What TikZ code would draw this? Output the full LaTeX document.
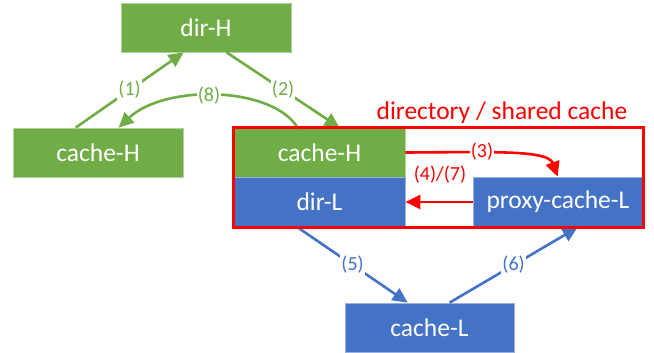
\documentclass[tikz,border=0pt]{standalone}
\usepackage{fontspec}
\setmainfont{Carlito}
\usetikzlibrary{arrows.meta,calc}
\definecolor{cgreen}{HTML}{70AD47}
\definecolor{cblue}{HTML}{4472C4}
\definecolor{cred}{HTML}{FF0000}
\begin{document}
\begin{tikzpicture}[x=1pt,y=-1pt,
  boxbase/.style={inner sep=0pt, text=white, font=\fontsize{25.5}{28}\selectfont, line width=0.75pt, minimum height=49pt},
  gbox/.style={boxbase, fill=cgreen, draw=cgreen!55!white},
  bbox/.style={boxbase, fill=cblue, draw=cblue!55!white},
  conn/.style={line width=2.6pt, -{Triangle[length=15pt,width=14pt]}},
  lbl/.style={fill=white, inner sep=1pt, font=\fontsize{20}{22}\selectfont},
]
\useasboundingbox (0,0) rectangle (654,353);
% boxes
\node[gbox, minimum width=170pt] (dirH) at (206,27.5) {dir-H};
\node[gbox, minimum width=170pt] (cacheHL) at (98,152.5) {cache-H};
\node[gbox, minimum width=171pt] (cacheHR) at (319.5,152.5) {cache-H};
\node[bbox, minimum width=171pt, minimum height=50pt] (dirL) at (319.5,202) {dir-L};
\node[bbox, minimum width=170pt, minimum height=50pt] (proxy) at (558,202) {proxy-cache-L};
\node[bbox, minimum width=169pt] (cacheL) at (429.5,327.5) {cache-L};
% shared cache frame
\node[draw=cred, line width=2pt, minimum width=409pt, minimum height=99pt, inner sep=0pt] (frame) at (438.5,177.5) {};
\node[text=cred, font=\fontsize{25.5}{28}\selectfont, inner sep=0pt] (title) at (502,113) {directory / shared cache};
% green connectors
\draw[conn, cgreen] ($(cacheHL.north west)+(63,0)$) -- node[lbl, text=cgreen] {(1)} ($(dirH.south west)+(63,0)$);
\draw[conn, cgreen] ($(dirH.south west)+(106,0)$) -- node[lbl, text=cgreen] {(2)} ($(cacheHR.north west)+(106,0)$);
\draw[conn, cgreen] ($(cacheHR.north west)+(64,0)$) .. controls (272,86) and (165,84) .. ($(cacheHL.north west)+(106,0)$);
\node[lbl, text=cgreen] (l8) at (209,96) {(8)};
% red connectors
\draw[conn, cred] (cacheHR.east) .. controls (495,152) and (548,150) .. ($(proxy.north west)+(85,0)$);
\node[lbl, text=cred] (l3) at (482,152) {(3)};
\draw[conn, cred] (proxy.west) -- (dirL.east);
\node[text=cred, font=\fontsize{20}{22}\selectfont, inner sep=0pt] (l47) at (440,175) {(4)/(7)};
% blue connectors
\draw[conn, cblue] ($(dirL.south west)+(64,0)$) -- node[lbl, text=cblue] {(5)} ($(cacheL.north west)+(63,0)$);
\draw[conn, cblue] ($(cacheL.north west)+(105,0)$) -- node[lbl, text=cblue] {(6)} ($(proxy.south west)+(105,0)$);
% frame border on top
\draw[cred, line width=2pt] (frame.north west) rectangle (frame.south east);
\end{tikzpicture}
\end{document}
